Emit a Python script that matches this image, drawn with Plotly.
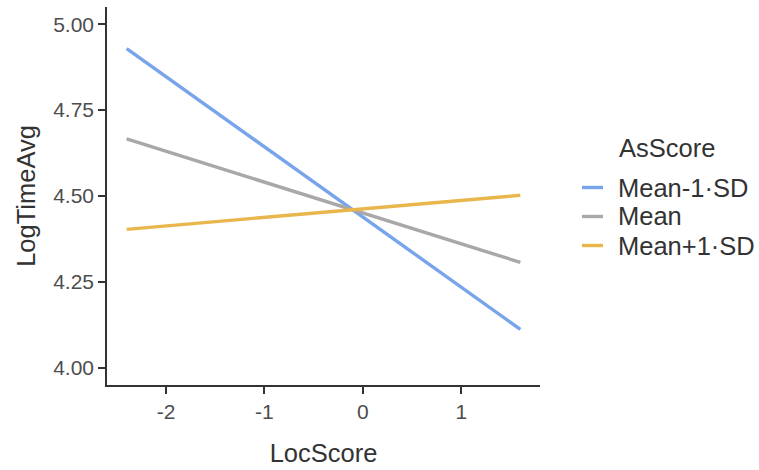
import plotly.graph_objects as go

# Simple slopes of LogTimeAvg on LocScore at three levels of AsScore
loc_score = [-2.4, 1.6]
series_names = ["Mean-1·SD", "Mean", "Mean+1·SD"]
low_values = [4.929, 4.112]
mean_values = [4.666, 4.307]
high_values = [4.403, 4.502]
series_values = [low_values, mean_values, high_values]
series_colors = ["#78A4EB", "#A8A8A8", "#E9B64B"]
legend_title = "AsScore"

x_ticks = [-2, -1, 0, 1]
y_ticks = [4.00, 4.25, 4.50, 4.75, 5.00]
y_tick_labels = ["4.00", "4.25", "4.50", "4.75", "5.00"]

FONT = "Liberation Sans, Arial, sans-serif"
TITLE_SIZE = 25.5
TICK_SIZE = 21

# panel geometry in pixels
W, H = 759, 470
L, R, T, B = 107, 540, 7, 385


def px_x(px):
    return (px - L) / (R - L)


def px_y(py):
    return (B - py) / (B - T)


fig = go.Figure()
for name, vals, col in zip(series_names, series_values, series_colors):
    fig.add_trace(go.Scatter(
        x=loc_score, y=vals, mode="lines", name=name,
        line=dict(color=col, width=3.4), showlegend=False,
    ))

# hand-built legend keyed to the series colours
shapes = []
annotations = [dict(
    text=legend_title, xref="paper", yref="paper",
    x=px_x(617), y=px_y(148), xanchor="left", yanchor="middle",
    showarrow=False, font=dict(size=TITLE_SIZE, color="#333333", family=FONT),
)]
key_y = [187.5, 216.5, 245.5]
for name, col, ky in zip(series_names, series_colors, key_y):
    shapes.append(dict(
        type="line", xref="paper", yref="paper",
        x0=px_x(582), x1=px_x(603), y0=px_y(ky), y1=px_y(ky),
        line=dict(color=col, width=3.4),
    ))
    annotations.append(dict(
        text=name, xref="paper", yref="paper",
        x=px_x(616), y=px_y(ky), xanchor="left", yanchor="middle",
        showarrow=False, font=dict(size=TITLE_SIZE, color="#333333", family=FONT),
    ))

fig.update_layout(
    width=W, height=H,
    margin=dict(l=L, r=W - R, t=T, b=H - B),
    paper_bgcolor="white", plot_bgcolor="white",
    font=dict(family=FONT, color="#333333"),
    showlegend=False,
    shapes=shapes,
    annotations=annotations,
)

fig.update_xaxes(
    range=[-2.6, 1.8], tickmode="array", tickvals=x_ticks,
    ticktext=[str(v) for v in x_ticks],
    showgrid=False, zeroline=False,
    showline=True, linecolor="#333333", linewidth=1.5,
    ticks="outside", ticklen=7, tickwidth=1.5, tickcolor="#333333",
    tickfont=dict(size=TICK_SIZE, color="#4D4D4D", family=FONT),
    title=dict(text="LocScore", font=dict(size=TITLE_SIZE, color="#333333", family=FONT), standoff=22),
)
fig.update_yaxes(
    range=[3.95, 5.05], tickmode="array", tickvals=y_ticks,
    ticktext=y_tick_labels,
    showgrid=False, zeroline=False,
    showline=True, linecolor="#333333", linewidth=1.5,
    ticks="outside", ticklen=7, tickwidth=1.5, tickcolor="#333333",
    tickfont=dict(size=TICK_SIZE, color="#4D4D4D", family=FONT),
    title=dict(text="LogTimeAvg", font=dict(size=TITLE_SIZE, color="#333333", family=FONT), standoff=10),
)

fig.write_html("out.html")
